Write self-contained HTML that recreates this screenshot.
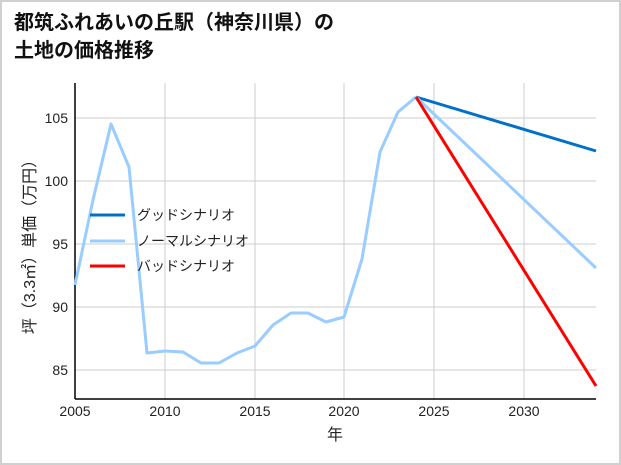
<!DOCTYPE html>
<html><head><meta charset="utf-8"><style>
body{margin:0;background:#fff}
svg{display:block;font-family:"Liberation Sans","Noto Sans CJK JP",sans-serif}
</style></head><body>
<svg width="621" height="465" viewBox="0 0 621 465">
<rect x="1" y="1" width="619" height="463" fill="#fff" stroke="#d0d0d0" stroke-width="2"/>
<text x="14" y="29" font-size="20" font-weight="bold" fill="#111">都筑ふれあいの丘駅（神奈川県）の</text>
<text x="14" y="57" font-size="20" font-weight="bold" fill="#111">土地の価格推移</text>
<g stroke="#cccccc" stroke-width="1">
<line x1="165" y1="83" x2="165" y2="399"/><line x1="255" y1="83" x2="255" y2="399"/>
<line x1="344" y1="83" x2="344" y2="399"/><line x1="434" y1="83" x2="434" y2="399"/>
<line x1="524" y1="83" x2="524" y2="399"/>
<line x1="75" y1="118" x2="596" y2="118"/><line x1="75" y1="181" x2="596" y2="181"/>
<line x1="75" y1="244" x2="596" y2="244"/><line x1="75" y1="307" x2="596" y2="307"/>
<line x1="75" y1="370" x2="596" y2="370"/>
</g>
<g stroke="#000" stroke-width="1.5"><line x1="75" y1="83" x2="75" y2="399"/><line x1="75" y1="399" x2="596" y2="399"/></g>
<g font-size="14" fill="#222" text-anchor="end">
<text x="68" y="123">105</text><text x="68" y="186">100</text><text x="68" y="249">95</text>
<text x="68" y="312">90</text><text x="68" y="375">85</text></g>
<g font-size="14" fill="#222" text-anchor="middle">
<text x="75" y="416">2005</text><text x="165" y="416">2010</text><text x="255" y="416">2015</text>
<text x="344" y="416">2020</text><text x="434" y="416">2025</text><text x="524" y="416">2030</text>
<text x="335" y="440" font-size="16">年</text></g>
<text transform="translate(35,243) rotate(-90)" font-size="16" fill="#222" text-anchor="middle">坪（3.3㎡）単価（万円）</text>
<g fill="none" stroke-width="3" stroke-linejoin="round">
<polyline stroke="#99ccff" points="75,285 93,200 111,124 129,167 147,353 165,351 183,352 201,363 219,363 237,353 255,346 273,325 291,313 308,313 326,322 344,317 362,259 380,152 398,112 416,97"/>
<line x1="416" y1="97" x2="596" y2="151" stroke="#0070c8"/>
<line x1="416" y1="97" x2="596" y2="268" stroke="#99ccff"/>
<line x1="416" y1="97" x2="596" y2="386" stroke="#ff0000"/>
</g>
<g stroke-width="3"><line x1="90" y1="215" x2="125" y2="215" stroke="#0070c8"/>
<line x1="90" y1="241" x2="125" y2="241" stroke="#99ccff"/>
<line x1="90" y1="266" x2="125" y2="266" stroke="#ff0000"/></g>
<g font-size="14" fill="#222"><text x="137" y="220">グッドシナリオ</text>
<text x="137" y="246">ノーマルシナリオ</text><text x="137" y="271">バッドシナリオ</text></g>
</svg>
</body></html>
